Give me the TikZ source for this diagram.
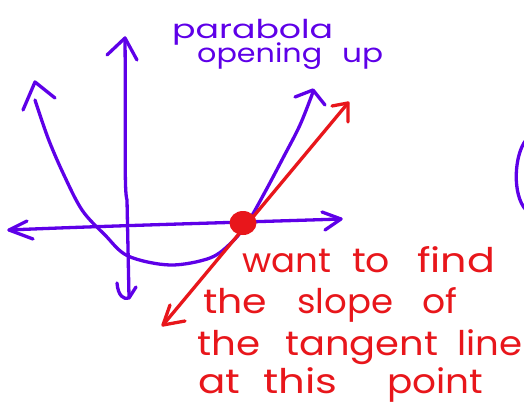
\documentclass[tikz,border=0pt]{standalone}
\usepackage{graphicx}
\usepackage{fontspec}
\usetikzlibrary{shapes.geometric}
\setmainfont{Poppins}
\definecolor{pen}{HTML}{5E00E8}
\definecolor{ink}{HTML}{E8161B}
\newcommand\hwtxt[2]{\resizebox{#1pt}{\height}{#2}}
\begin{document}
\begin{tikzpicture}[x=1pt,y=-1pt,
  purp/.style={draw=pen,line width=3.3pt,line cap=round,line join=round},
  redl/.style={draw=ink,line width=3.3pt,line cap=round,line join=round},
  rtxt/.style={text=ink,inner sep=0pt,anchor=base west,font=\fontsize{34}{34}\selectfont},
  ptxt/.style={text=pen,inner sep=0pt,anchor=base west,font=\fontsize{26}{26}\selectfont}]
\useasboundingbox[fill=white] (0,0) rectangle (524,409);
\begin{scope}
\clip (0,0) rectangle (524,409);
% y-axis
\coordinate (yt) at (125,38);
\coordinate (yb) at (129,297);
\draw[purp] (yt) .. controls (126,150) and (124,190) .. (127,200) -- (yb);
\draw[purp] (107,55) -- (yt) -- (137,60);
\draw[purp] (117,283) .. controls (118,296) and (124,300) .. (129,298) -- (136,287);
% x-axis
\coordinate (xl) at (9,230);
\coordinate (xr) at (341,219);
\draw[purp] (xl) .. controls (100,226) and (250,222) .. (xr);
\draw[purp] (27,221) -- (xl) -- (33,239);
\draw[purp] (322,212) -- (xr) -- (325,230);
% parabola
\draw[purp] plot[smooth,tension=0.55] coordinates {(35,100) (48,138) (63,173) (82,210) (105,235) (128,256) (170,265) (210,258) (232,242) (248,222) (265,192) (283,158) (300,125) (313,92)};
\draw[purp] (23,110) -- (35,82) -- (55,98);
\draw[purp] (295,97) -- (313,90) -- (325,105);
% partial arc at right edge
\draw[purp] (526,140) .. controls (514,155) and (512,195) .. (526,210);
% tangent line
\coordinate (tb) at (163,325);
\coordinate (tt) at (348,103);
\draw[redl] (tb) -- (tt);
\draw[redl] (332,106) -- (tt) -- (348,122);
\draw[redl] (170,305) -- (tb) -- (185,321);
\end{scope}
\node[fill=ink,ellipse,minimum width=27pt,minimum height=24pt,inner sep=0pt] (dot) at (243,223) {};
% purple label
\node[ptxt] (p1) at (172,39) {\hwtxt{161}{parabola}};
\node[ptxt] (p2) at (197,63) {\hwtxt{125}{opening}};
\node[ptxt] (p3) at (342,63) {\hwtxt{41}{up}};
% red label
\node[rtxt] (r1) at (242,272) {\hwtxt{89}{want}};
\node[rtxt] (r2) at (352,272) {\hwtxt{38}{to}};
\node[rtxt] (r3) at (417,272) {\hwtxt{78}{find}};
\node[rtxt] (r4) at (203,313) {\hwtxt{64}{the}};
\node[rtxt] (r5) at (297,313) {\hwtxt{96}{slope}};
\node[rtxt] (r6) at (422,313) {\hwtxt{35}{of}};
\node[rtxt] (r7) at (197,355) {\hwtxt{63}{the}};
\node[rtxt] (r8) at (285,355) {\hwtxt{153}{tangent}};
\node[rtxt] (r9) at (457,355) {\hwtxt{65}{line}};
\node[rtxt] (r10) at (198,393) {\hwtxt{42}{at}};
\node[rtxt] (r11) at (263,393) {\hwtxt{74}{this}};
\node[rtxt] (r12) at (387,393) {\hwtxt{96}{point}};
\end{tikzpicture}
\end{document}
